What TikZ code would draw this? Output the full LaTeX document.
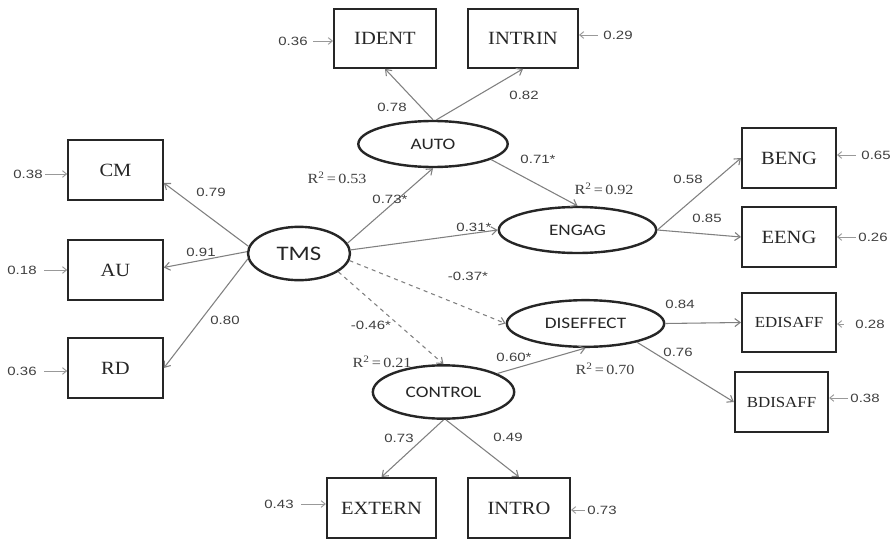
\documentclass[tikz,border=0pt]{standalone}
\usepackage{fontspec}
\setmainfont{Liberation Serif}
\newfontfamily\boxf[FakeStretch=1.1]{Liberation Serif}
\newfontfamily\numf[FakeStretch=1.25]{Liberation Sans}
\newfontfamily\rsqf[FakeStretch=1.15]{Liberation Serif}
\newfontfamily\ellf[FakeStretch=1.2]{Carlito}
\usetikzlibrary{shapes.geometric,arrows.meta}
\begin{document}
\begin{tikzpicture}[x=0.75pt,y=-0.75pt,
  obs/.style={draw=black!85,line width=1.5pt,rectangle,inner sep=0pt,font=\boxf\fontsize{14}{16}\selectfont,text=black!85},
  lat/.style={draw=black!85,line width=1.8pt,ellipse,inner sep=0pt,font=\ellf\fontsize{12}{14}\selectfont,text=black!85},
  path/.style={draw=black!50,line width=0.8pt,-{Straight Barb[length=4pt,width=6pt]}},
  dpath/.style={path,dashed},
  err/.style={draw=black!40,line width=0.7pt,-{Straight Barb[length=3pt,width=5pt]}},
  num/.style={font=\numf\fontsize{9}{10}\selectfont,text=black!75,inner sep=1pt},
  rsq/.style={font=\rsqf\fontsize{10.5}{12}\selectfont,text=black!75,inner sep=1pt}]
\useasboundingbox[fill=white] (0,0) rectangle (892,542);

% observed boxes
\node[obs,minimum width=76.5pt,minimum height=44pt] (ident) at (385,38.5) {IDENT};
\node[obs,minimum width=82.5pt,minimum height=44pt] (intrin) at (523,38.5) {INTRIN};
\node[obs,minimum width=71pt,minimum height=45pt] (cm) at (115.5,170) {CM};
\node[obs,minimum width=71pt,minimum height=45pt] (au) at (115.5,270) {AU};
\node[obs,minimum width=71pt,minimum height=45pt] (rd) at (115.5,368) {RD};
\node[obs,minimum width=70.5pt,minimum height=45pt] (beng) at (789,158) {BENG};
\node[obs,minimum width=70.5pt,minimum height=45pt] (eeng) at (789,237) {EENG};
\node[obs,minimum width=70.5pt,minimum height=44pt,font=\boxf\fontsize{11.5}{13}\selectfont] (edis) at (789,322.5) {EDISAFF};
\node[obs,minimum width=70pt,minimum height=45pt,font=\boxf\fontsize{11.5}{13}\selectfont] (bdis) at (781.5,402) {BDISAFF};
\node[obs,minimum width=82pt,minimum height=45pt] (extern) at (381.5,508) {EXTERN};
\node[obs,minimum width=76.5pt,minimum height=45pt] (intro) at (519,508) {INTRO};

% latent ellipses
\node[lat,minimum width=112pt,minimum height=34.5pt] (auto) at (433,144) {AUTO};
\node[lat,minimum width=76.5pt,minimum height=40pt,font=\ellf\fontsize{15.5}{17}\selectfont] (tms) at (299,253.5) {TMS};
\node[lat,minimum width=118pt,minimum height=34.5pt] (engag) at (577.5,230) {ENGAG};
\node[lat,minimum width=118pt,minimum height=35pt] (disef) at (585.5,323.5) {DISEFFECT};
\node[lat,minimum width=106pt,minimum height=40pt] (control) at (443.5,392) {CONTROL};

% structural / measurement paths
\draw[path] (auto.north) -- (ident.south);
\draw[path] (auto.82) -- (intrin.south);
\draw[path] (tms.172) -- (cm.-15);
\draw[path] (tms.178) -- (au.3);
\draw[path] (tms.186) -- (rd.east);
\draw[path] (tms.12) -- (auto.south);
\draw[path] (tms.4) -- (engag.west);
\draw[dpath] (tms.-8) -- (disef.west);
\draw[dpath] (tms.-25) -- (control.north);
\draw[path] (auto.-15) -- (engag.north);
\draw[path] (control.19) -- (disef.south);
\draw[path] (engag.east) -- (beng.west);
\draw[path] (engag.east) -- (eeng.west);
\draw[path] (disef.east) -- (edis.west);
\draw[path] (disef.-20) -- (bdis.west);
\draw[path] (control.south) -- (extern.north);
\draw[path] (control.-85) -- (intro.north);

% error terms
\node[num] (e1) at (293,41) {0.36};
\draw[err] (e1.east) ++(4,0) coordinate (e1s) -- (ident.west |- e1s);
\node[num] (e2) at (618,35) {0.29};
\draw[err] (e2.west) ++(-4,0) coordinate (e2s) -- (intrin.east |- e2s);
\node[num] (e3) at (28,174) {0.38};
\draw[err] (e3.east) ++(1,0) coordinate (e3s) -- (cm.west |- e3s);
\node[num] (e4) at (22,270) {0.18};
\draw[err] (e4.east) ++(6,0) coordinate (e4s) -- (au.west |- e4s);
\node[num] (e5) at (22,371) {0.36};
\draw[err] (e5.east) ++(6,0) coordinate (e5s) -- (rd.west |- e5s);
\node[num] (e6) at (876,155) {0.65};
\draw[err] (e6.west) ++(-4,0) coordinate (e6s) -- (beng.east |- e6s);
\node[num] (e7) at (873,237) {0.26};
\draw[err] (e7.west) ++(-1,0) coordinate (e7s) -- (eeng.east |- e7s);
\node[num] (e8) at (870,324) {0.28};
\draw[err] (e8.west) ++(-10,0) coordinate (e8s) -- (edis.east |- e8s);
\node[num] (e9) at (865,398) {0.38};
\draw[err] (e9.west) ++(-1,0) coordinate (e9s) -- (bdis.east |- e9s);
\node[num] (e10) at (279,504) {0.43};
\draw[err] (e10.east) ++(6,0) coordinate (e10s) -- (extern.west |- e10s);
\node[num] (e11) at (602,510) {0.73};
\draw[err] (e11.west) ++(-1,0) coordinate (e11s) -- (intro.east |- e11s);

% path coefficients
\node[num] (l1) at (392,107) {0.78};
\node[num] (l2) at (524,95) {0.82};
\node[num] (l3) at (211,192) {0.79};
\node[num] (l4) at (201,252) {0.91};
\node[num] (l5) at (225,320) {0.80};
\node[num] (l6) at (390,199) {0.73*};
\node[num] (l7) at (538,159) {0.71*};
\node[num] (l8) at (474,227) {0.31*};
\node[num] (l9) at (688,179) {0.58};
\node[num] (l10) at (707,218) {0.85};
\node[num] (l11) at (468,276) {-0.37*};
\node[num] (l12) at (680,304) {0.84};
\node[num] (l13) at (678,352) {0.76};
\node[num] (l14) at (371,325) {-0.46*};
\node[num] (l15) at (514,357) {0.60*};
\node[num] (l16) at (399,438) {0.73};
\node[num] (l17) at (508,437) {0.49};

% R squared
\node[rsq] (r1) at (337,178) {R\textsuperscript{2}\,=\,0.53};
\node[rsq] (r2) at (604,189) {R\textsuperscript{2}\,=\,0.92};
\node[rsq] (r3) at (382,362) {R\textsuperscript{2}\,=\,0.21};
\node[rsq] (r4) at (605,369) {R\textsuperscript{2}\,=\,0.70};
\end{tikzpicture}
\end{document}
